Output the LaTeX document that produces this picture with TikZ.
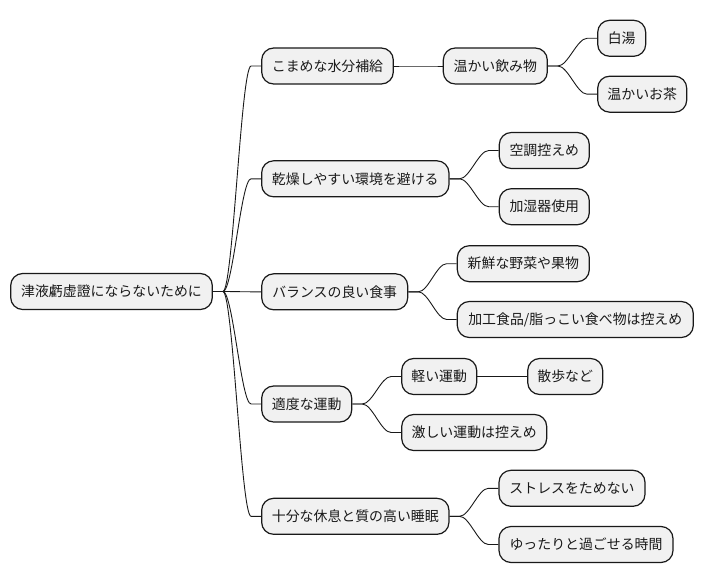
\documentclass[tikz,border=0pt]{standalone}
\usepackage{fontspec}
\setmainfont{Noto Sans CJK JP}
\begin{document}
\begin{tikzpicture}[x=1pt,y=-1pt,
  box/.style={draw=black!90, line width=1.2pt, fill=black!5.5, rounded corners=12pt,
    minimum height=36pt, inner sep=0pt, font=\fontsize{13.9pt}{16pt}\selectfont, text=black!90},
  link/.style={draw=black!90, line width=0.9pt}]
\useasboundingbox (0,0) rectangle (703,583);
\node[box, minimum width=201.6pt] (r) at (111.5,291.5) {津液虧虚證にならないために};
\node[box, minimum width=131.6pt] (a) at (327.5,66) {こまめな水分補給};
\node[box, minimum width=187.3pt] (b) at (355.3,178.8) {乾燥しやすい環境を避ける};
\node[box, minimum width=146pt] (c) at (334.7,291.8) {バランスの良い食事};
\node[box, minimum width=90pt] (d) at (306.7,404) {適度な運動};
\node[box, minimum width=187.3pt] (e) at (355.3,516.3) {十分な休息と質の高い睡眠};
\node[box, minimum width=104pt] (a1) at (495.3,66) {温かい飲み物};
\node[box, minimum width=48pt] (a11) at (621.7,38.3) {白湯};
\node[box, minimum width=89pt] (a12) at (642.2,94.2) {温かいお茶};
\node[box, minimum width=90pt] (b1) at (544.3,150.5) {空調控えめ};
\node[box, minimum width=90pt] (b2) at (544.3,206.7) {加湿器使用};
\node[box, minimum width=132pt] (c1) at (523.3,263.7) {新鮮な野菜や果物};
\node[box, minimum width=236pt] (c2) at (575.3,319.5) {加工食品/脂っこい食べ物は控えめ};
\node[box, minimum width=75pt] (d1) at (439.2,376.5) {軽い運動};
\node[box, minimum width=75pt] (d11) at (565.2,376.5) {散歩など};
\node[box, minimum width=145pt] (d2) at (474.2,432.5) {激しい運動は控えめ};
\node[box, minimum width=146pt] (e1) at (572,488.3) {ストレスをためない};
\node[box, minimum width=174pt] (e2) at (586,544.5) {ゆったりと過ごせる時間};
\foreach \p/\c in {r/a,r/b,r/c,r/d,r/e,a/a1,a1/a11,a1/a12,b/b1,b/b2,c/c1,c/c2,d/d1,d1/d11,d/d2,e/e1,e/e2}{
  \draw[link] (\p.east) -- ++(10,0) .. controls +(10,0) and ([xshift=-20pt]\c.west) .. ([xshift=-10pt]\c.west) -- (\c.west);
}
\end{tikzpicture}
\end{document}
